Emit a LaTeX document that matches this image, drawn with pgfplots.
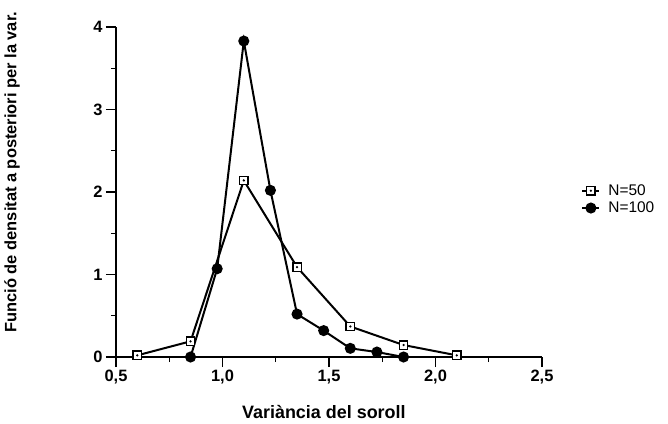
\documentclass[border=0pt]{standalone}
\usepackage{fontspec}
\setmainfont{Liberation Sans}
\usepackage{pgfplots}
\pgfplotsset{compat=1.18}

% square with a dot in the middle
\pgfdeclareplotmark{sqdot}{%
  \pgfpathrectangle{\pgfqpoint{-\pgfplotmarksize}{-\pgfplotmarksize}}{\pgfqpoint{2\pgfplotmarksize}{2\pgfplotmarksize}}%
  \pgfusepathqfillstroke
  \begin{pgfscope}%
  \pgfpathcircle{\pgfpointorigin}{0.3\pgfplotmarksize}%
  \pgfsetfillcolor{black}%
  \pgfusepathqfill
  \end{pgfscope}%
}

\begin{document}
\begin{tikzpicture}
\begin{axis}[
  scale only axis,
  width=426bp, height=330bp,
  xmin=0.5, xmax=2.5, ymin=0, ymax=4,
  axis lines=left,
  axis line style={-, line width=1.4bp},
  xtick={0.5,1,1.5,2,2.5},
  ytick={0,1,2,3,4},
  minor x tick num=1,
  minor y tick num=1,
  tick align=outside,
  major tick length=10bp,
  minor tick length=5bp,
  every tick/.style={black, line width=1.4bp},
  /pgf/number format/assume math mode=true,
  x tick label style={/pgf/number format/.cd, fixed, fixed zerofill, precision=1, use comma},
  tick label style={font=\bfseries\fontsize{16.5}{18}\selectfont},
  xlabel={Variància del soroll},
  ylabel={Funció de densitat a posteriori per la var.},
  every axis x label/.style={at={(axis description cs:0.488,-0.167)}, anchor=center,
    font=\bfseries\fontsize{18}{20}\selectfont},
  every axis y label/.style={at={(axis description cs:-0.244,0.56)}, rotate=90, anchor=center,
    font=\bfseries\fontsize{16.5}{18}\selectfont},
  clip=false,
  legend style={draw=none, fill=none, at={(axis description cs:1.085,0.535)}, anchor=north west,
    font=\fontsize{15.5}{17}\selectfont, row sep=1bp, column sep=6bp},
  legend cell align=left,
]
\addplot[black, line width=2bp, mark=sqdot, mark size=4.2bp, mark options={fill=white, line width=1.4bp, solid}]
  coordinates {(0.6,0.02) (0.85,0.19) (1.1,2.14) (1.35,1.09) (1.6,0.37) (1.85,0.145) (2.1,0.02)};
\addlegendentry{N=50}
\addplot[black, line width=2bp, mark=*, mark size=4.5bp, mark options={fill=black, solid}]
  coordinates {(0.85,0) (0.975,1.07) (1.1,3.83) (1.225,2.02) (1.35,0.52) (1.475,0.32) (1.6,0.105) (1.725,0.06) (1.85,0)};
\addlegendentry{N=100}
\end{axis}
\path (current axis.south west) ++(-116bp,-67bp) rectangle ++(668bp,424bp);
\end{tikzpicture}
\end{document}
